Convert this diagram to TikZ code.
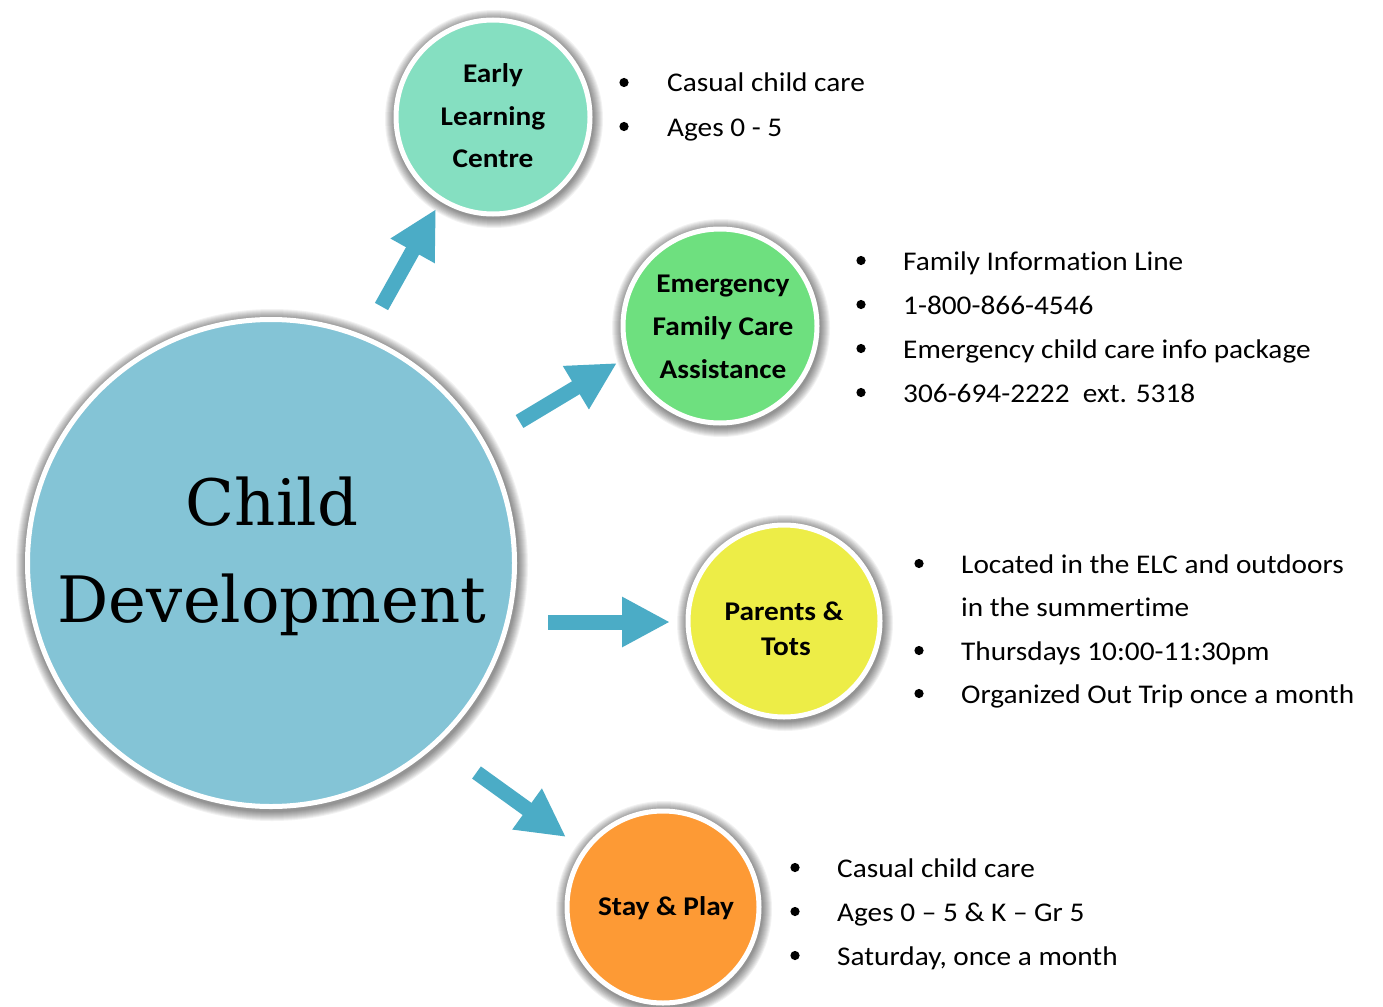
\documentclass[tikz,border=0pt]{standalone}
\usepackage{fontspec}
\setmainfont{Carlito}[FakeStretch=1.085, Ligatures=NoCommon]
\newfontfamily\slabfont{DejaVu Serif}
\usetikzlibrary{arrows.meta}
\definecolor{arrowblue}{HTML}{4BACC6}
\definecolor{mainfill}{HTML}{84C4D6}
\definecolor{elcfill}{HTML}{85DFC1}
\definecolor{emfill}{HTML}{6EE07F}
\definecolor{ptfill}{HTML}{EDED47}
\definecolor{spfill}{HTML}{FD9A35}
\tikzset{
  bubble/.style={circle, draw=white, line width=5pt, inner sep=0pt},
  blockarrow/.style={draw=arrowblue, line width=15pt,
    -{Triangle[length=48pt, width=47pt, fill=arrowblue]}},
  lbl/.style={font=\fontsize{27}{42}\selectfont\bfseries, align=center, inner sep=0pt},
  item/.style={font=\fontsize{27}{44}\selectfont, anchor=base west, inner sep=0pt},
  dot/.style={fill=black, draw=none},
}
\newcommand{\softshadow}[3]{%
  \foreach \i in {1,...,10}{%
    \fill[black, opacity=0.05] (#1+1,#2+2) circle[radius=#3pt+2pt+\i pt];
  }%
}
\newcommand{\bull}[2]{\fill[dot] (#1,#2-9.5) circle[radius=4.6pt];}
\begin{document}
\begin{tikzpicture}[x=1pt,y=-1pt]
\path[use as bounding box] (0,0) rectangle (1383,1006);
\fill[white] (0,0) rectangle (1383,1006);

% shadows
\softshadow{271}{563}{244}
\softshadow{493}{117}{97}
\softshadow{720}{326}{97}
\softshadow{784}{621}{96}
\softshadow{663}{907}{96}

% circles
\node[bubble, fill=mainfill, minimum size=487pt] (main) at (271,563) {};
\node[bubble, fill=elcfill, minimum size=194pt] (elc) at (493,117) {};
\node[bubble, fill=emfill, minimum size=194pt] (em) at (720,326) {};
\node[bubble, fill=ptfill, minimum size=192pt] (pt) at (784,621) {};
\node[bubble, fill=spfill, minimum size=192pt] (sp) at (663,907) {};

% main text
\node[font=\slabfont\fontsize{64}{97}\selectfont, anchor=base, inner sep=0pt] (child) at (272,525) {Child};
\node[font=\slabfont\fontsize{64}{97}\selectfont, anchor=base, inner sep=0pt] (dev) at (272,622) {Development};

% circle labels
\node[lbl, anchor=base] (elc1) at (493,83) {Early};
\node[lbl, anchor=base] (elc2) at (493,125) {Learning};
\node[lbl, anchor=base] (elc3) at (493,167) {Centre};
\node[lbl, anchor=base] (em1) at (723,292) {Emergency};
\node[lbl, anchor=base] (em2) at (723,335) {Family Care};
\node[lbl, anchor=base] (em3) at (723,378) {Assistance};
\node[lbl, anchor=base] (pt1) at (784,620) {Parents \&};
\node[lbl, anchor=base] (pt2) at (786,655) {Tots};
\node[lbl, anchor=base] (sp1) at (666,915) {Stay \& Play};

% arrows
\coordinate (a1s) at (381.5,306.5); \coordinate (a1e) at (436,209);
\coordinate (a2s) at (519.5,421.5); \coordinate (a2e) at (617,363);
\coordinate (a3s) at (548,622);     \coordinate (a3e) at (670,622);
\coordinate (a4s) at (476.5,772.5); \coordinate (a4e) at (566,837);
\draw[blockarrow] (a1s) -- (a1e);
\draw[blockarrow] (a2s) -- (a2e);
\draw[blockarrow] (a3s) -- (a3e);
\draw[blockarrow] (a4s) -- (a4e);

% bullet lists
\bull{624}{92}  \node[item] (t11) at (667,92) {Casual child care};
\bull{624}{136} \node[item] (t12) at (667,136) {Ages 0 - 5};

\bull{861}{270} \node[item] (t21) at (903,270) {Family Information Line};
\bull{861}{314} \node[item] (t22) at (903,314) {1-800-866-4546};
\bull{861}{358} \node[item] (t23) at (903,358) {Emergency child care info package};
\bull{861}{402} \node[item] (t24) at (903,402) {306-694-2222\ \ ext. 5318};

\bull{919}{573} \node[item] (t31) at (961,573) {Located in the ELC and outdoors};
\node[item] (t32) at (961,616) {in the summertime};
\bull{919}{660} \node[item] (t33) at (961,660) {Thursdays 10:00-11:30pm};
\bull{919}{703} \node[item] (t34) at (961,703) {Organized Out Trip once a month};

\bull{795}{877} \node[item] (t41) at (837,877) {Casual child care};
\bull{795}{921} \node[item] (t42) at (837,921) {Ages 0 – 5 \& K – Gr 5};
\bull{795}{965} \node[item] (t43) at (837,965) {Saturday, once a month};
\end{tikzpicture}
\end{document}
